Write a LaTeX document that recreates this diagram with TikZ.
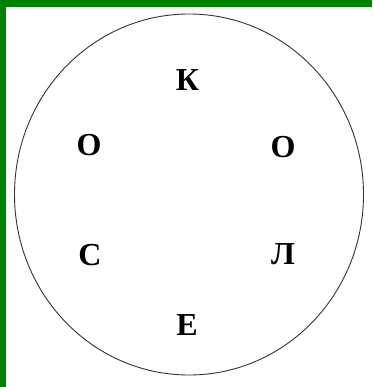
\documentclass[tikz,border=0pt]{standalone}
\usepackage{fontspec}
\setmainfont{Liberation Serif}
\definecolor{frame}{RGB}{0,128,0}
\begin{document}
\begin{tikzpicture}[x=1pt,y=-1pt,
  letter/.style={font=\fontsize{32}{32}\selectfont\bfseries, inner sep=0pt, anchor=center}]
\useasboundingbox (0,0) rectangle (372,387);
\fill[white] (0,0) rectangle (372,387);
\fill[frame] (0,0) rectangle (372,7);
\fill[frame] (0,0) rectangle (6,387);
\draw[line width=0.9pt, black!80] (189,194.5) ellipse[x radius=174.5, y radius=180.5];
\node[letter] (k) at (187.5,80) {К};
\node[letter] (o1) at (89,145) {О};
\node[letter] (o2) at (283,147) {О};
\node[letter] (s) at (90,255.5) {С};
\node[letter] (l) at (283,254) {Л};
\node[letter] (e) at (187,325) {Е};
\end{tikzpicture}
\end{document}
